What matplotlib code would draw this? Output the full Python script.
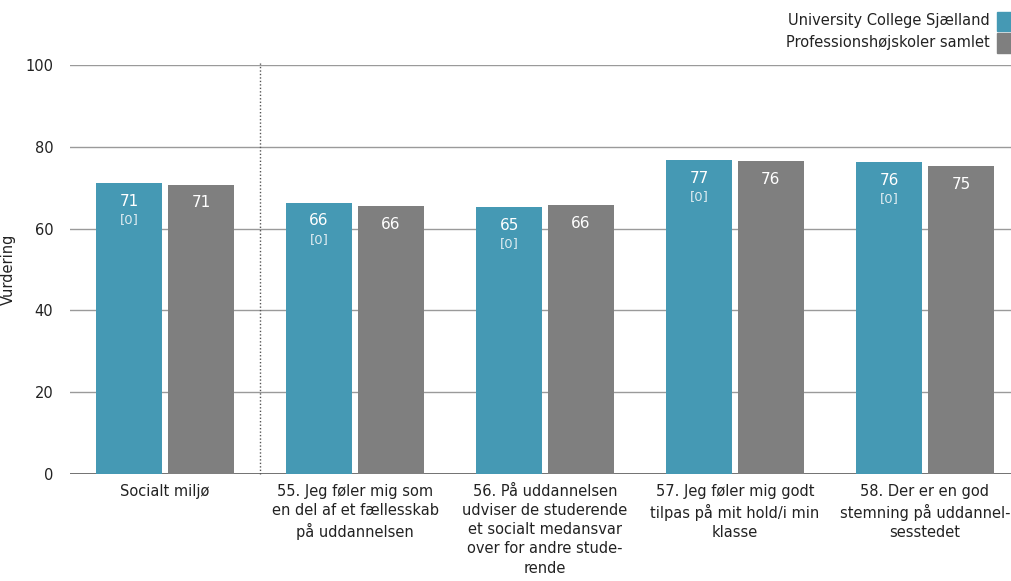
import matplotlib
matplotlib.use("Agg")
import matplotlib.pyplot as plt
import numpy as np

# Data
categories = [
    "Socialt miljø",
    "55. Jeg føler mig som\nen del af et fællesskab\npå uddannelsen",
    "56. På uddannelsen\nudviser de studerende\net socialt medansvar\nover for andre stude-\nrende",
    "57. Jeg føler mig godt\ntilpas på mit hold/i min\nklasse",
    "58. Der er en god\nstemning på uddannel-\nsesstedet",
]
ucs_values = [71.1, 66.3, 65.3, 76.8, 76.3]
ucs_labels = ["71", "66", "65", "77", "76"]
ucs_missing = ["[0]", "[0]", "[0]", "[0]", "[0]"]
all_values = [70.7, 65.5, 65.8, 76.5, 75.3]
all_labels = ["71", "66", "66", "76", "75"]
series_names = ["University College Sjælland", "Professionshøjskoler samlet"]

blue = "#4599B4"
grey = "#7F7F7F"

fig = plt.figure(figsize=(10.12, 5.81), dpi=100)
ax = fig.add_axes([70 / 1012, 1 - 474 / 581, 942 / 1012, 409 / 581])

x = np.arange(len(categories))
w = 0.347
off = 0.189

ax.bar(x - off, ucs_values, width=w, color=blue, zorder=3)
ax.bar(x + off, all_values, width=w, color=grey, zorder=3)

for i in range(len(categories)):
    ax.text(x[i] - off, ucs_values[i] - 2.6, ucs_labels[i], ha="center", va="top",
            color="white", fontsize=11, zorder=4)
    ax.text(x[i] - off, ucs_values[i] - 7.4, ucs_missing[i], ha="center", va="top",
            color="#DDEBF0", fontsize=9.5, zorder=4)
    ax.text(x[i] + off, all_values[i] - 2.6, all_labels[i], ha="center", va="top",
            color="white", fontsize=11, zorder=4)

ax.set_xlim(-0.5, -0.5 + 942 / 190)
ax.set_ylim(0, 100)
ax.set_yticks([0, 20, 40, 60, 80, 100])
ax.tick_params(axis="y", length=0, pad=12, labelsize=10.5, colors="#222222")
ax.tick_params(axis="x", length=0, pad=7, labelsize=10.5, colors="#222222")
ax.set_xticks(x)
ax.set_xticklabels(categories, linespacing=1.35, va="top")

for yv in [20, 40, 60, 80, 100]:
    ax.axhline(yv, color="#9A9A9A", linewidth=1, zorder=1)
ax.axhline(0, color="#5A5A5A", linewidth=1.2, zorder=2)

ax.axvline(0.5, ymin=0, ymax=1.005, color="#555555", linestyle=(0, (1, 1.5)),
           linewidth=1, zorder=2, clip_on=False)

for s in ax.spines.values():
    s.set_visible(False)

ax.set_ylabel("Vurdering", fontsize=10.5, color="#222222")
ax.yaxis.set_label_coords(-0.057, 0.5)

# Legend in the top right corner
fig.text(990 / 1012, 1 - 21 / 581, series_names[0], ha="right", va="center",
         fontsize=10.5, color="#222222")
fig.text(990 / 1012, 1 - 43 / 581, series_names[1], ha="right", va="center",
         fontsize=10.5, color="#222222")
fig.patches.append(plt.Rectangle((997 / 1012, 1 - 31 / 581), 15 / 1012, 19 / 581,
                                 transform=fig.transFigure, color=blue, figure=fig))
fig.patches.append(plt.Rectangle((997 / 1012, 1 - 53 / 581), 15 / 1012, 20 / 581,
                                 transform=fig.transFigure, color=grey, figure=fig))

fig.savefig("out.png", dpi=100)
